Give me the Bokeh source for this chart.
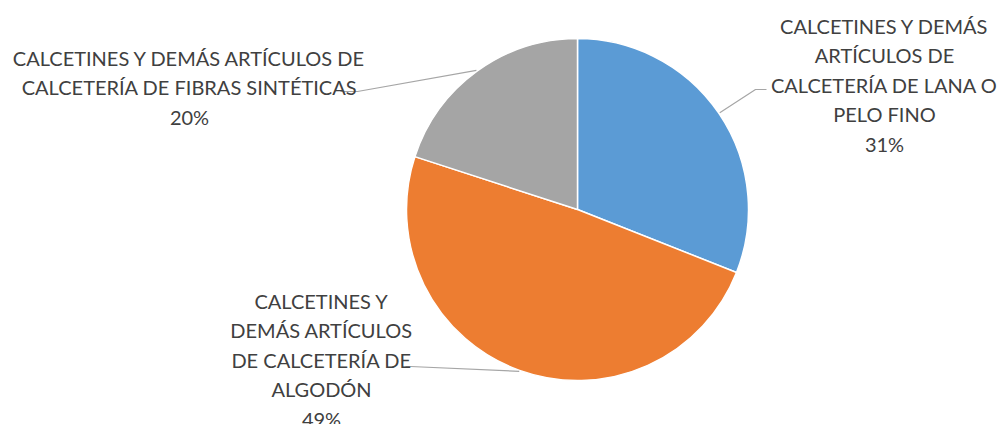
import math
from bokeh.plotting import figure
from bokeh.models import Range1d
from bokeh.core.properties import value
from bokeh.embed import file_html
from bokeh.resources import INLINE

# ---- data ----
categories = [
    "CALCETINES Y DEMÁS ARTÍCULOS DE CALCETERÍA DE LANA O PELO FINO",
    "CALCETINES Y DEMÁS ARTÍCULOS DE CALCETERÍA DE ALGODÓN",
    "CALCETINES Y DEMÁS ARTÍCULOS DE CALCETERÍA DE FIBRAS SINTÉTICAS",
]
shares = [31, 49, 20]
label_lines = [
    ["CALCETINES Y DEMÁS", "ARTÍCULOS DE", "CALCETERÍA DE LANA O", "PELO FINO"],
    ["CALCETINES Y", "DEMÁS ARTÍCULOS", "DE CALCETERÍA DE", "ALGODÓN"],
    ["CALCETINES Y DEMÁS ARTÍCULOS DE", "CALCETERÍA DE FIBRAS SINTÉTICAS"],
]
colors = ["#5B9BD5", "#ED7D31", "#A5A5A5"]

# ---- layout (image pixel coords, y measured from top) ----
W, H = 1004, 424
def Y(yimg):
    return H - yimg

cx, cy, R = 577, Y(209), 171
label_pos = [(884, 25), (321, 300), (189, 57)]   # centre x, first-line y (image)
line_step = 29.5
leader_mid = [(755, 89), (410, 366), (357, 91)]
leader_end = [(766, 89), (405, 366), (340, 91)]

p = figure(width=W, height=H, output_backend="svg", toolbar_location=None,
           x_range=Range1d(0, W), y_range=Range1d(0, H),
           min_border=0)
p.axis.visible = False
p.grid.visible = False
p.outline_line_color = None
p.background_fill_color = "white"
p.border_fill_color = "white"

total = sum(shares)
start = math.pi / 2
starts, ends, mids = [], [], []
for s in shares:
    a = s / total * 2 * math.pi
    starts.append(start - a)
    ends.append(start)
    mids.append(start - a / 2)
    start -= a

p.wedge(x=cx, y=cy, radius=R, start_angle=starts, end_angle=ends,
        fill_color=colors, line_color="white", line_width=1.5)

font = value("Lato")
for i in range(3):
    m = mids[i]
    sx = cx + (R + 1) * math.cos(m)
    sy = cy + (R + 1) * math.sin(m)
    xs = [sx, leader_mid[i][0], leader_end[i][0]]
    ys = [sy, Y(leader_mid[i][1]), Y(leader_end[i][1])]
    p.line(xs, ys, line_color="#A6A6A6", line_width=1.2)
    lines = label_lines[i] + [f"{shares[i]}%"]
    lx, ly = label_pos[i]
    p.text(x=[lx] * len(lines), y=[Y(ly + k * line_step) for k in range(len(lines))],
           text=lines, text_font=font, text_font_size="20px",
           text_color="#404040", text_align="center", text_baseline="middle")

open("out.html", "w").write(file_html(p, INLINE))
